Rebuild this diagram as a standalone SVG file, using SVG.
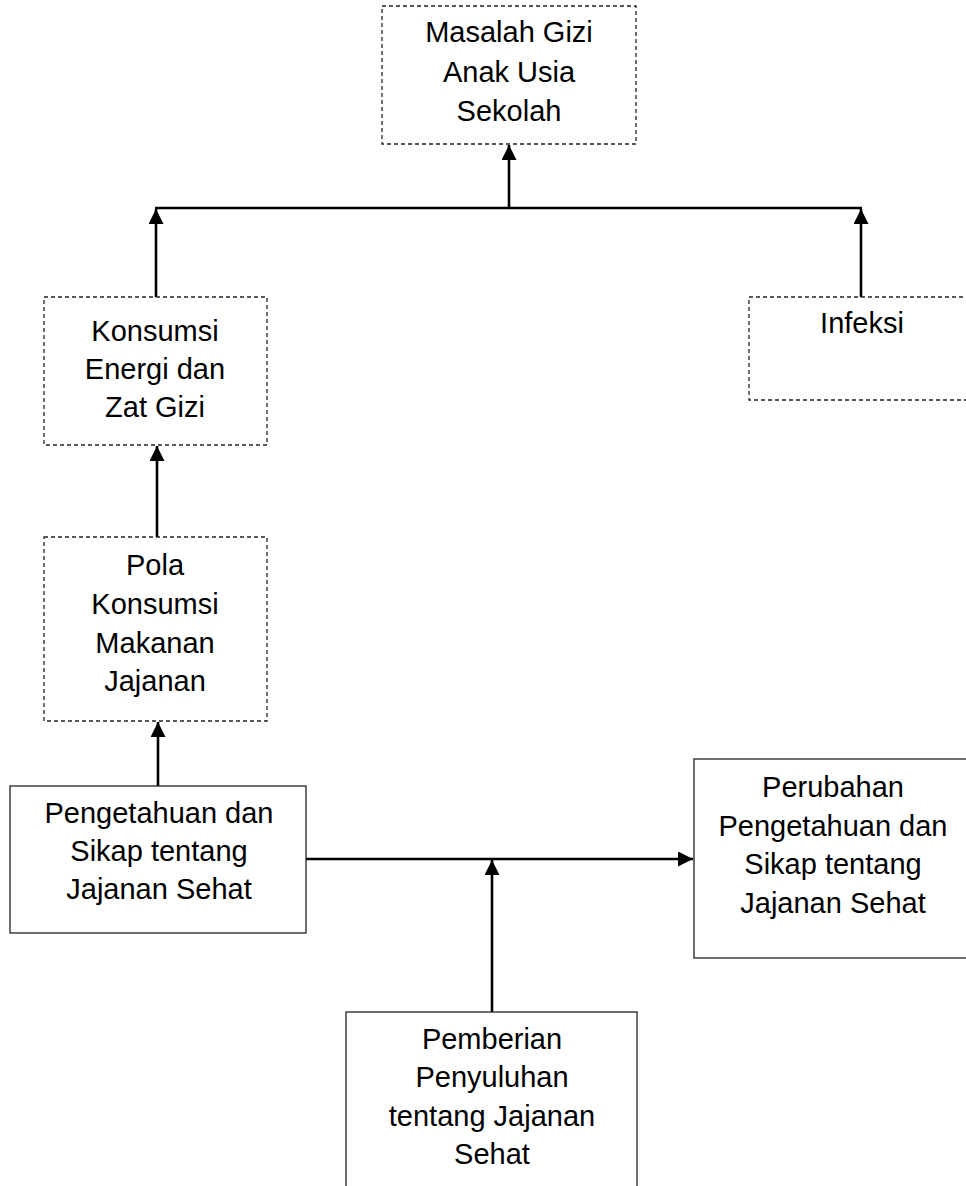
<svg xmlns="http://www.w3.org/2000/svg" width="966" height="1186" viewBox="0 0 966 1186">
<style>
.bg{fill:#ffffff}
.dash{fill:none;stroke:#222;stroke-width:1.3;stroke-dasharray:4 3}
.solid{fill:none;stroke:#222;stroke-width:1.3}
.t{font-family:"Liberation Sans",Arial,sans-serif;font-size:29px;fill:#000;text-anchor:middle}
.c{fill:none;stroke:#000;stroke-width:2.6}
</style>
<defs>
<marker id="ah" markerUnits="userSpaceOnUse" markerWidth="16" markerHeight="16" refX="15" refY="7.5" orient="auto">
<path d="M0,0 L15,7.5 L0,15 z" fill="#000"/>
</marker>
</defs>
<rect class="bg" x="0" y="0" width="966" height="1186"/>
<g id="connectors">
<line class="c" x1="155" y1="208" x2="862" y2="208"/>
<line class="c" x1="509" y1="208" x2="509" y2="145" marker-end="url(#ah)"/>
<line class="c" x1="156" y1="297" x2="156" y2="209" marker-end="url(#ah)"/>
<line class="c" x1="861" y1="297" x2="861" y2="209" marker-end="url(#ah)"/>
<line class="c" x1="157" y1="537" x2="157" y2="446" marker-end="url(#ah)"/>
<line class="c" x1="158" y1="786" x2="158" y2="722" marker-end="url(#ah)"/>
<line class="c" x1="306" y1="859" x2="693" y2="859" marker-end="url(#ah)"/>
<line class="c" x1="492" y1="1012" x2="492" y2="860" marker-end="url(#ah)"/>
</g>
<g id="masalah">
<rect class="dash" x="382" y="6" width="254" height="138"/>
<text class="t" x="509" y="42">Masalah Gizi</text>
<text class="t" x="509" y="82">Anak Usia</text>
<text class="t" x="509" y="121">Sekolah</text>
</g>
<g id="konsumsi">
<rect class="dash" x="44" y="297" width="223" height="148"/>
<text class="t" x="155" y="341">Konsumsi</text>
<text class="t" x="155" y="379">Energi dan</text>
<text class="t" x="155" y="417">Zat Gizi</text>
</g>
<g id="infeksi">
<rect class="dash" x="749" y="297" width="226" height="103"/>
<text class="t" x="862" y="333">Infeksi</text>
</g>
<g id="pola">
<rect class="dash" x="44" y="537" width="223" height="184"/>
<text class="t" x="155" y="575">Pola</text>
<text class="t" x="155" y="614">Konsumsi</text>
<text class="t" x="155" y="653">Makanan</text>
<text class="t" x="155" y="691">Jajanan</text>
</g>
<g id="pengetahuan">
<rect class="solid" x="10" y="786" width="296" height="147"/>
<text class="t" x="159" y="823">Pengetahuan dan</text>
<text class="t" x="159" y="861">Sikap tentang</text>
<text class="t" x="159" y="899">Jajanan Sehat</text>
</g>
<g id="perubahan">
<rect class="solid" x="694" y="759" width="280" height="199"/>
<text class="t" x="833" y="797">Perubahan</text>
<text class="t" x="833" y="836">Pengetahuan dan</text>
<text class="t" x="833" y="874">Sikap tentang</text>
<text class="t" x="833" y="913">Jajanan Sehat</text>
</g>
<g id="pemberian">
<rect class="solid" x="346" y="1012" width="291" height="200"/>
<text class="t" x="492" y="1049">Pemberian</text>
<text class="t" x="492" y="1087">Penyuluhan</text>
<text class="t" x="492" y="1126">tentang Jajanan</text>
<text class="t" x="492" y="1164">Sehat</text>
</g>
</svg>
